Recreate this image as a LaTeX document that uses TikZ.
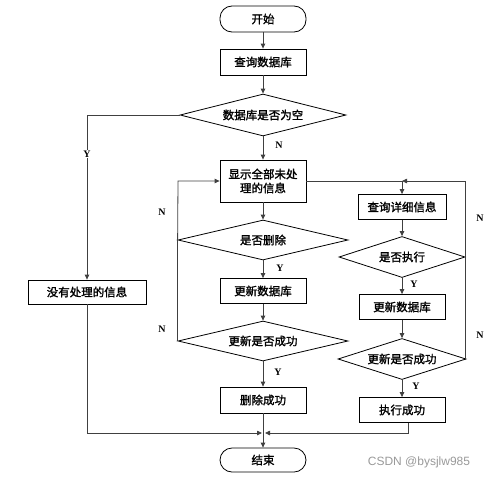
\documentclass[tikz,border=0pt]{standalone}
\usepackage{fontspec}
\setmainfont{Liberation Serif}
\newfontfamily\cjk[FakeBold=1.5]{Noto Sans CJK SC}
\newfontfamily\wmfont{Liberation Sans}
\usetikzlibrary{shapes.geometric,arrows.meta}
\begin{document}
\begin{tikzpicture}[x=1pt,y=-1pt,
  box/.style={draw=black, line width=0.8pt, minimum width=86pt, minimum height=25pt, inner sep=1pt, font=\cjk\fontsize{11.5}{14}\selectfont, align=center},
  term/.style={box, rounded corners=12pt},
  dia/.style={draw=black, line width=0.8pt, diamond, aspect=4, inner sep=0pt, font=\cjk\fontsize{11.5}{14}\selectfont},
  lab/.style={font=\bfseries\fontsize{10}{12}\selectfont, inner sep=1pt},
  conn/.style={draw=black!75, line width=0.8pt},
  arr/.style={conn, -{Triangle[length=5pt,width=4.5pt]}}]
\useasboundingbox (0,0) rectangle (494,479);
% nodes
\node[term, minimum height=26pt] (start) at (263,19) {开始};
\node[box, minimum height=26pt] (q1) at (263,62) {查询数据库};
\node[dia, minimum width=166pt, minimum height=42pt] (d1) at (263,115) {数据库是否为空};
\node[box, minimum height=42pt] (show) at (263,181) {显示全部未处\\理的信息};
\node[dia, minimum width=170pt, minimum height=40pt] (delq) at (263,240) {是否删除};
\node[box] (upd1) at (263,291) {更新数据库};
\node[dia, minimum width=170pt, minimum height=40pt] (ok1) at (263,341) {更新是否成功};
\node[box, minimum height=26pt] (delok) at (263,400) {删除成功};
\node[term, minimum height=24pt] (end) at (263,460) {结束};
\node[box, minimum width=118pt, minimum height=24pt] (none) at (87,292) {没有处理的信息};
\node[box, minimum width=88pt] (detail) at (402,207) {查询详细信息};
\node[dia, minimum width=126pt, minimum height=41pt] (exeq) at (402,257) {是否执行};
\node[box] (upd2) at (402,307) {更新数据库};
\node[dia, minimum width=128pt, minimum height=41pt] (ok2) at (402,359) {更新是否成功};
\node[box] (exeok) at (402,410) {执行成功};
\coordinate (jr) at (402,181);
\coordinate (ml) at (262,433);
\coordinate (mr) at (265,433);
\coordinate (xl) at (178,181);
\coordinate (xr) at (465,181);
% main column
\draw[arr] (start) -- (q1);
\draw[arr] (q1) -- (d1);
\draw[arr] (d1) -- (show);
\node[lab] (n0) at (279,145) {N};
\draw[arr] (d1.west) -| (none.north);
\node[lab, fill=white] (y0) at (87,154) {Y};
\draw[arr] (show) -- (delq);
\draw[arr] (delq) -- (upd1);
\node[lab] (y1) at (280,268) {Y};
\draw[arr] (upd1) -- (ok1);
\draw[arr] (ok1) -- (delok);
\node[lab] (y2) at (278,372) {Y};
\draw[arr] (delok) -- (end);
% left loop
\draw[conn] (ok1.west) -- (delq.west);
\draw[arr] (delq.west) -- (xl) -- (show.west);
\node[lab] (n1) at (162,212) {N};
\node[lab] (n2) at (162,329) {N};
% right column
\draw[conn] (show.east) -- (jr);
\draw[arr] (jr) -- (detail.north);
\draw[arr] (detail) -- (exeq);
\draw[arr] (exeq) -- (upd2);
\node[lab] (y3) at (414,284) {Y};
\draw[arr] (upd2) -- (ok2);
\draw[arr] (ok2) -- (exeok);
\node[lab] (y4) at (416,386) {Y};
\draw[conn] (exeq.east) -- (exeq.east -| xr);
\draw[arr] (ok2.east) -| (xr) -- (jr);
\node[lab] (n3) at (480,218) {N};
\node[lab] (n4) at (480,335) {N};
% merge
\draw[arr] (none.south) |- (ml);
\draw[arr] ([xshift=6pt]exeok.south) |- (mr);
% watermark
\node[font=\wmfont\fontsize{12}{14}\selectfont, text=black!40] (wm) at (419,462) {CSDN @bysjlw985};
\end{tikzpicture}
\end{document}
